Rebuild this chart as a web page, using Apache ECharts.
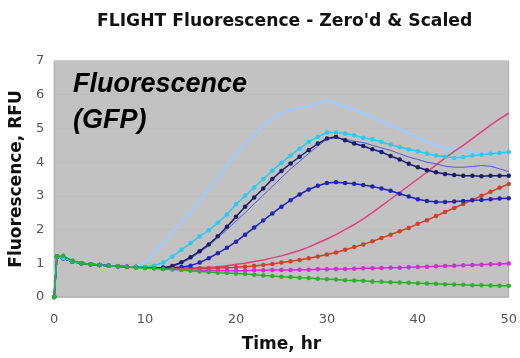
<!DOCTYPE html>
<html>
<head>
<meta charset="utf-8">
<script src="https://cdn.jsdelivr.net/npm/echarts@6/dist/echarts.min.js"></script>
<style>
  html, body { margin: 0; padding: 0; background: #fff; }
  #box { width: 520px; height: 358px; }
</style>
</head>
<body>
<div id="box"></div>
<script>
// 时间 (hr)
var times = [0, 0.3, 1, 2, 3, 4, 5, 6, 7, 8, 9, 10, 11, 12, 13, 14, 15, 16, 17, 18, 19, 20,
  21, 22, 23, 24, 25, 26, 27, 28, 29, 30, 31, 32, 33, 34, 35, 36, 37, 38, 39, 40,
  41, 42, 43, 44, 45, 46, 47, 48, 49, 50];

var lightBlue = [0, 1.2, 1.15, 1.05, 1.0, 0.97, 0.95, 0.93, 0.91, 0.9, 0.92, 1.02, 1.3, 1.62, 1.92, 2.22, 2.52, 2.85, 3.2, 3.55, 3.9, 4.25,
  4.55, 4.82, 5.08, 5.3, 5.46, 5.55, 5.6, 5.65, 5.75, 5.82, 5.75, 5.65, 5.55, 5.45, 5.35, 5.2, 5.1, 4.98, 4.85, 4.72,
  4.6, 4.5, 4.42, 4.38, 4.35, 4.3, 4.28, 4.27, 4.28, 4.3];
var cyan = [0, 1.2, 1.15, 1.05, 1.0, 0.97, 0.95, 0.93, 0.91, 0.9, 0.89, 0.9, 0.93, 1.02, 1.2, 1.4, 1.6, 1.8, 1.98, 2.2, 2.45, 2.75,
  3.0, 3.25, 3.5, 3.75, 3.98, 4.2, 4.4, 4.6, 4.75, 4.88, 4.88, 4.85, 4.8, 4.72, 4.68, 4.6, 4.52, 4.45, 4.38, 4.32,
  4.25, 4.2, 4.16, 4.12, 4.15, 4.2, 4.22, 4.25, 4.27, 4.3];
var navy = [0, 1.2, 1.15, 1.05, 1.0, 0.97, 0.95, 0.93, 0.91, 0.9, 0.89, 0.88, 0.87, 0.87, 0.92, 1.03, 1.18, 1.36, 1.56, 1.8, 2.08, 2.38,
  2.68, 2.95, 3.22, 3.5, 3.74, 3.96, 4.16, 4.36, 4.55, 4.7, 4.75, 4.65, 4.55, 4.48, 4.38, 4.3, 4.18, 4.08, 3.95, 3.85,
  3.76, 3.7, 3.65, 3.62, 3.6, 3.6, 3.58, 3.6, 3.6, 3.6];
var thinBlue = [0, 1.2, 1.15, 1.05, 1.0, 0.97, 0.95, 0.93, 0.91, 0.9, 0.89, 0.88, 0.87, 0.87, 0.91, 1.0, 1.14, 1.32, 1.52, 1.76, 2.0, 2.25,
  2.5, 2.76, 3.02, 3.28, 3.54, 3.8, 4.02, 4.26, 4.48, 4.68, 4.72, 4.68, 4.62, 4.58, 4.5, 4.42, 4.35, 4.25, 4.15, 4.08,
  4.0, 3.95, 3.88, 3.85, 3.85, 3.87, 3.9, 3.88, 3.8, 3.72];
var blue = [0, 1.2, 1.15, 1.05, 1.0, 0.97, 0.95, 0.93, 0.91, 0.9, 0.89, 0.88, 0.87, 0.87, 0.87, 0.89, 0.93, 1.02, 1.15, 1.3, 1.46, 1.64,
  1.85, 2.06, 2.27, 2.48, 2.68, 2.87, 3.04, 3.19, 3.3, 3.38, 3.4, 3.38, 3.36, 3.32, 3.28, 3.22, 3.15, 3.06, 2.98, 2.9,
  2.85, 2.82, 2.82, 2.83, 2.85, 2.87, 2.88, 2.9, 2.92, 2.93];
var pink = [0, 1.2, 1.15, 1.05, 1.0, 0.97, 0.95, 0.93, 0.91, 0.9, 0.89, 0.88, 0.87, 0.87, 0.86, 0.86, 0.86, 0.87, 0.88, 0.9, 0.93, 0.97,
  1.0, 1.05, 1.1, 1.16, 1.22, 1.3, 1.38, 1.48, 1.6, 1.72, 1.85, 2.0, 2.15, 2.32, 2.5, 2.7, 2.9, 3.1, 3.3, 3.5,
  3.7, 3.92, 4.12, 4.32, 4.5, 4.7, 4.9, 5.1, 5.28, 5.45];
var red = [0, 1.2, 1.15, 1.05, 1.0, 0.97, 0.95, 0.93, 0.91, 0.9, 0.89, 0.88, 0.87, 0.87, 0.86, 0.86, 0.85, 0.85, 0.85, 0.86, 0.87, 0.88,
  0.9, 0.92, 0.95, 0.98, 1.02, 1.06, 1.1, 1.15, 1.2, 1.26, 1.32, 1.4, 1.48, 1.56, 1.65, 1.75, 1.85, 1.95, 2.05, 2.17,
  2.28, 2.4, 2.52, 2.64, 2.76, 2.88, 3.0, 3.12, 3.24, 3.35];
var magenta = [0, 1.2, 1.15, 1.05, 1.0, 0.97, 0.95, 0.93, 0.91, 0.9, 0.89, 0.87, 0.85, 0.83, 0.82, 0.81, 0.8, 0.79, 0.79, 0.78, 0.78, 0.78,
  0.78, 0.79, 0.79, 0.8, 0.8, 0.8, 0.81, 0.81, 0.82, 0.82, 0.83, 0.83, 0.84, 0.85, 0.85, 0.86, 0.87, 0.87, 0.88, 0.89,
  0.9, 0.91, 0.92, 0.93, 0.94, 0.95, 0.96, 0.97, 0.98, 0.99];
var green = [0, 1.2, 1.22, 1.08, 1.0, 0.97, 0.95, 0.93, 0.91, 0.89, 0.87, 0.86, 0.85, 0.83, 0.82, 0.8, 0.78, 0.76, 0.74, 0.72, 0.71, 0.7,
  0.68, 0.66, 0.64, 0.62, 0.6, 0.59, 0.57, 0.56, 0.54, 0.53, 0.52, 0.5, 0.49, 0.48, 0.46, 0.45, 0.44, 0.43, 0.42, 0.41,
  0.4, 0.39, 0.38, 0.37, 0.36, 0.35, 0.35, 0.34, 0.33, 0.33];

var xTicks = [0, 10, 20, 30, 40, 50];
var yTicks = [0, 1, 2, 3, 4, 5, 6, 7];

function pairs(vals) {
  var out = [];
  for (var i = 0; i < times.length; i++) {
    out.push([times[i], vals[i]]);
  }
  return out;
}

function mkSeries(name, vals, color, width, marker) {
  return {
    name: name,
    type: 'line',
    data: pairs(vals),
    smooth: false,
    showSymbol: marker,
    symbol: 'circle',
    symbolSize: 4.5,
    lineStyle: { color: color, width: width },
    itemStyle: { color: color },
    animation: false
  };
}

var myChart = echarts.init(document.getElementById('box'));

var option = {
  title: {
    text: 'FLIGHT Fluorescence - Zero\'d & Scaled',
    left: 92,
    top: 8,
    textStyle: { fontFamily: 'DejaVu Sans', fontWeight: 'bold', fontSize: 17.2, color: '#111' }
  },
  grid: {
    left: 54, top: 61, right: 10, bottom: 58,
    show: true,
    backgroundColor: '#c2c2c2',
    borderColor: '#a8a8a8',
    borderWidth: 1
  },
  xAxis: {
    type: 'value',
    min: 0, max: 50, interval: 10,
    name: 'Time, hr',
    nameLocation: 'middle',
    nameGap: 39,
    nameTextStyle: { fontFamily: 'DejaVu Sans', fontWeight: 'bold', fontSize: 17, color: '#111' },
    axisLine: { show: false },
    axisTick: { show: false },
    splitLine: { show: false },
    axisLabel: {
      margin: 16,
      fontFamily: 'DejaVu Sans', fontSize: 13, color: '#555',
      formatter: function (v) { return xTicks.indexOf(v) >= 0 ? String(v) : ''; }
    }
  },
  yAxis: {
    type: 'value',
    min: 0, max: 7, interval: 1,
    name: 'Fluorescence, RFU',
    nameLocation: 'middle',
    nameGap: 20,
    nameTextStyle: { fontFamily: 'DejaVu Sans', fontWeight: 'bold', fontSize: 17, color: '#111' },
    axisLine: { show: false },
    axisTick: { show: false },
    splitLine: { show: true, lineStyle: { color: '#bebebe', width: 1 } },
    axisLabel: {
      margin: 10,
      fontFamily: 'DejaVu Sans', fontSize: 13, color: '#555',
      formatter: function (v) { return yTicks.indexOf(v) >= 0 ? String(v) : ''; }
    }
  },
  graphic: [{
    type: 'text',
    left: 73,
    top: 67,
    style: {
      text: 'Fluorescence\n(GFP)',
      font: 'italic bold 27px "Liberation Sans", Arial, sans-serif',
      lineHeight: 36,
      fill: '#000'
    },
    z: 100
  }],
  series: [
    mkSeries('lightBlue', lightBlue, '#a9c8f0', 3, false),
    mkSeries('red', red, '#d0402a', 1.5, true),
    mkSeries('pink', pink, '#e0407e', 1.5, false),
    mkSeries('magenta', magenta, '#dd28d8', 1.5, true),
    mkSeries('blue', blue, '#2424b4', 1.5, true),
    mkSeries('thinBlue', thinBlue, '#5858d8', 1, false),
    mkSeries('navy', navy, '#1c1c6c', 1.5, true),
    mkSeries('cyan', cyan, '#2ec8f0', 1.5, true),
    mkSeries('green', green, '#2eb02e', 1.5, true)
  ]
};

myChart.setOption(option);
</script>
</body>
</html>
